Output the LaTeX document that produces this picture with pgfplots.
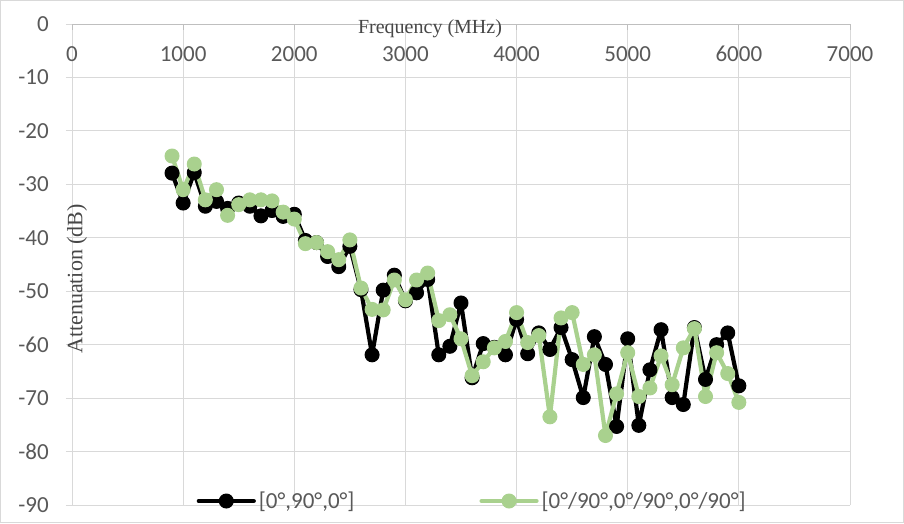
\documentclass[border=0pt]{standalone}
\usepackage{fontspec}
\setmainfont{Carlito}
\newfontfamily\timesfont{Liberation Serif}
\usepackage{pgfplots}
\usepackage{pgfplotstable}
\pgfplotsset{compat=1.18}
\definecolor{lgreen}{HTML}{A9D18E}
\definecolor{gridc}{HTML}{D9D9D9}
\definecolor{axisc}{HTML}{BFBFBF}
\definecolor{txtc}{HTML}{595959}
\pgfplotstableread{
f black green
900 -27.9 -24.7
1000 -33.5 -31.0
1100 -27.8 -26.2
1200 -34.1 -32.9
1300 -33.2 -31.0
1400 -34.5 -35.8
1500 -33.5 -33.8
1600 -34.1 -32.9
1700 -35.9 -32.9
1800 -34.9 -33.1
1900 -36.0 -35.2
2000 -35.6 -36.5
2100 -40.5 -41.1
2200 -40.9 -40.9
2300 -43.5 -42.6
2400 -45.4 -44.1
2500 -41.6 -40.4
2600 -49.7 -49.4
2700 -61.9 -53.4
2800 -49.8 -53.5
2900 -47.0 -47.9
3000 -51.8 -51.6
3100 -50.3 -47.9
3200 -47.8 -46.6
3300 -61.9 -55.5
3400 -60.3 -54.4
3500 -52.2 -58.9
3600 -66.2 -65.8
3700 -59.8 -63.2
3800 -60.5 -60.6
3900 -61.9 -59.4
4000 -55.3 -54.0
4100 -61.7 -59.6
4200 -57.8 -58.3
4300 -60.9 -73.5
4400 -56.8 -55.0
4500 -62.8 -54.0
4600 -69.9 -63.7
4700 -58.5 -61.9
4800 -63.7 -77.0
4900 -75.3 -69.2
5000 -58.9 -61.5
5100 -75.1 -69.7
5200 -64.7 -68.1
5300 -57.2 -62.1
5400 -69.9 -67.5
5500 -71.2 -60.6
5600 -56.8 -57.0
5700 -66.5 -69.7
5800 -60.0 -61.5
5900 -57.8 -65.4
6000 -67.7 -70.8
}\datatable
\begin{document}
\begin{tikzpicture}[x=1pt,y=1pt]
\useasboundingbox (0,0) rectangle (904,523);
\draw[gridc, line width=1pt] (0.5,0.5) rectangle (903.5,522.5);
\begin{axis}[
  at={(72pt,18pt)}, anchor=south west,
  scale only axis, width=778pt, height=481pt,
  xmin=0, xmax=7000, ymin=-90, ymax=0,
  axis x line*=top, axis y line*=left,
  y axis line style={draw=none},
  x axis line style={draw=axisc, line width=1pt},
  xtick={0,1000,...,7000},
  xticklabels={0,1000,2000,3000,4000,5000,6000,7000},
  ytick={0,-10,...,-90},
  yticklabels={0,-10,-20,-30,-40,-50,-60,-70,-80,-90},
  xtick align=inside, ytick align=outside,
  major tick length=6pt,
  xtick style={draw=axisc, line width=1pt},
  ytick style={draw=gridc, line width=1pt},
  grid=major,
  major grid style={draw=gridc, line width=1pt},
  xticklabel style={anchor=north, inner sep=0pt, yshift=-22pt, font=\fontsize{23}{27}\selectfont, text=txtc},
  yticklabel style={anchor=east, inner sep=0pt, xshift=-17pt, font=\fontsize{23}{27}\selectfont, text=txtc},
  legend columns=2,
  legend style={at={(axis description cs:0.16,0.0083)}, anchor=west, draw=none, fill=none, inner sep=0pt,
    nodes={inner sep=3pt, text=txtc, font=\fontsize{23}{27}\selectfont},
    /tikz/every even column/.append style={column sep=122pt}},
  legend image code/.code={\draw[mark repeat=2,mark phase=2,#1] plot coordinates {(0pt,0pt) (27.5pt,0pt) (55pt,0pt)};},
  clip=false,
]
\addplot[black, line width=4.2pt, line join=round, line cap=round, mark=*, mark size=7pt, mark options={line width=1pt, fill=black}] table[x=f, y=black] {\datatable};
\addlegendentry{[0°,90°,0°]}
\addplot[lgreen, line width=4.2pt, line join=round, line cap=round, mark=*, mark size=7pt, mark options={line width=1pt, fill=lgreen}] table[x=f, y=green] {\datatable};
\addlegendentry{[0°/90°,0°/90°,0°/90°]}
\end{axis}
\node[font=\timesfont\fontsize{20}{24}\selectfont, text=txtc!80!black] at (430,494) {Frequency (MHz)};
\node[font=\timesfont\fontsize{22}{26}\selectfont, text=txtc!80!black, rotate=90] at (77,244) {Attenuation (dB)};
\end{tikzpicture}
\end{document}
